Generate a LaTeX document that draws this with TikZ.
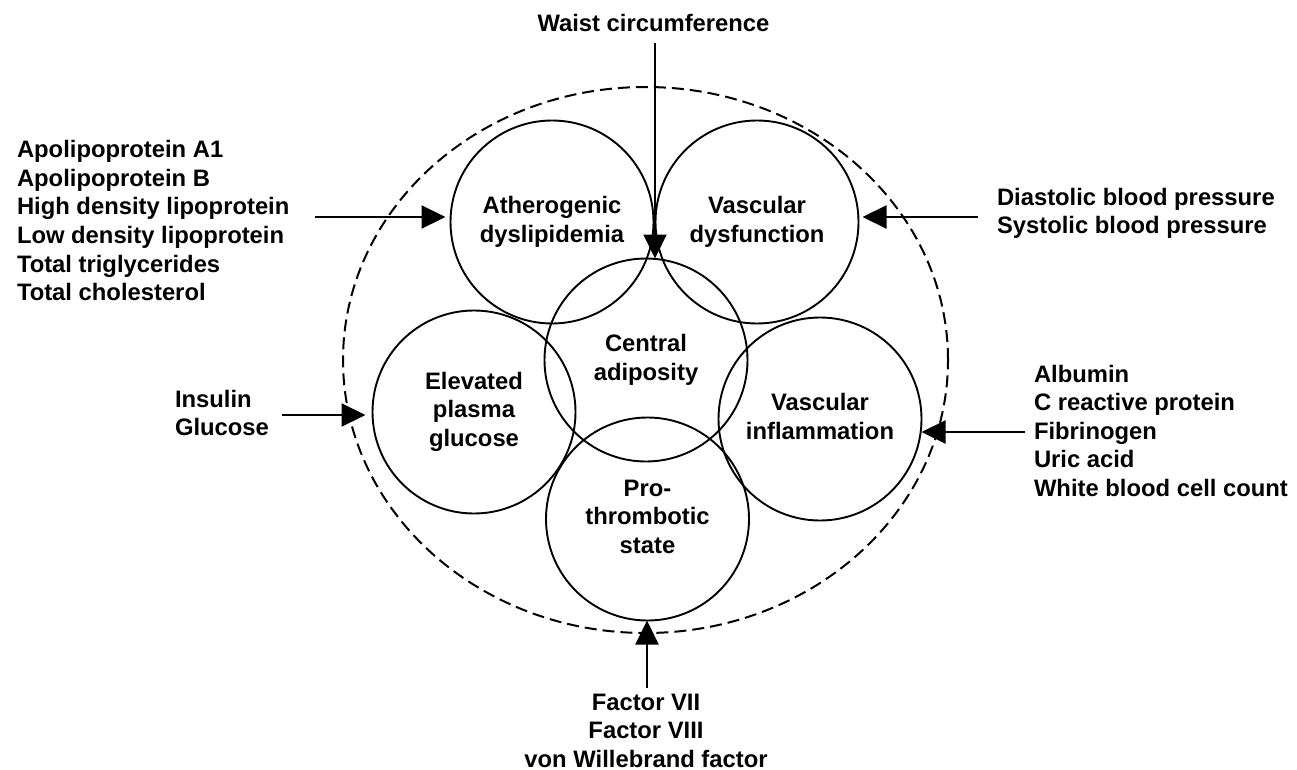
\documentclass[tikz,border=0pt]{standalone}
\usepackage{fontspec}
\setmainfont{Liberation Sans}
\usetikzlibrary{arrows.meta,shapes.geometric}
\begin{document}
\begin{tikzpicture}[x=1pt,y=-1pt,
  txt/.style={font=\fontsize{23.8}{28.6}\selectfont\bfseries, inner sep=0pt, outer sep=0pt},
  bubble/.style={txt, draw, line width=1.9pt, circle, minimum size=203pt},
  arr/.style={line width=2.2pt, -{Triangle[length=24pt,width=23pt]}},
  ]
\useasboundingbox (0,0) rectangle (1297,770);
% outer dashed boundary
\node[draw, ellipse, line width=2pt, dash pattern=on 12pt off 6pt,
      minimum width=605pt, minimum height=546pt, inner sep=0pt] (outer) at (645.5,360) {};
% circles
\node[bubble] (ath)  at (552,222)   {\begin{tabular}{@{}c@{}}Atherogenic\\dyslipidemia\end{tabular}};
\node[bubble] (vdys) at (757,222)   {\begin{tabular}{@{}c@{}}Vascular\\dysfunction\end{tabular}};
\node[bubble] (cen)  at (646,360)   {\begin{tabular}{@{}c@{}}Central\\adiposity\end{tabular}};
\node[bubble] (elev) at (474,412)   {\begin{tabular}{@{}c@{}}Elevated\\plasma\\glucose\end{tabular}};
\node[bubble] (infl) at (820,419)   {\begin{tabular}{@{}c@{}}Vascular\\inflammation\end{tabular}};
\node[bubble] (pro)  at (647.5,519) {\begin{tabular}{@{}c@{}}Pro-\\thrombotic\\state\end{tabular}};
% outside lists
\node[txt, anchor=base] (waist) at (653.5,32) {Waist circumference};
\node[txt, anchor=base west] (lipids) at (17,157.6) {\begin{tabular}[t]{@{}l@{}}Apolipoprotein A1\\Apolipoprotein B\\High density lipoprotein\\Low density lipoprotein\\Total triglycerides\\Total cholesterol\end{tabular}};
\node[txt, anchor=base west] (bp) at (997,205) {\begin{tabular}[t]{@{}l@{}}Diastolic blood pressure\\Systolic blood pressure\end{tabular}};
\node[txt, anchor=base west] (inflist) at (1034,382) {\begin{tabular}[t]{@{}l@{}}Albumin\\C reactive protein\\Fibrinogen\\Uric acid\\White blood cell count\end{tabular}};
\node[txt, anchor=base west] (gluc) at (175,407) {\begin{tabular}[t]{@{}l@{}}Insulin\\Glucose\end{tabular}};
\node[txt, anchor=base] (factors) at (646,710) {\begin{tabular}[t]{@{}c@{}}Factor VII\\Factor VIII\\von Willebrand factor\end{tabular}};
% arrow start points
\coordinate (wS) at (655,43);
\coordinate (lS) at (315,217);
\coordinate (rS) at (978,217);
\coordinate (iS) at (282,415);
\coordinate (fS) at (1025,432);
\coordinate (bS) at (647,688);
% arrows
\draw[arr] (wS) -- (wS |- cen.north);
\draw[arr, shorten >=5pt] (lS) -- (lS -| ath.west);
\draw[arr, shorten >=4pt] (rS) -- (rS -| vdys.east);
\draw[arr, shorten >=7pt] (iS) -- (iS -| elev.west);
\draw[arr] (fS) -- (fS -| infl.east);
\draw[arr] (bS) -- (bS |- pro.south);
\end{tikzpicture}
\end{document}
